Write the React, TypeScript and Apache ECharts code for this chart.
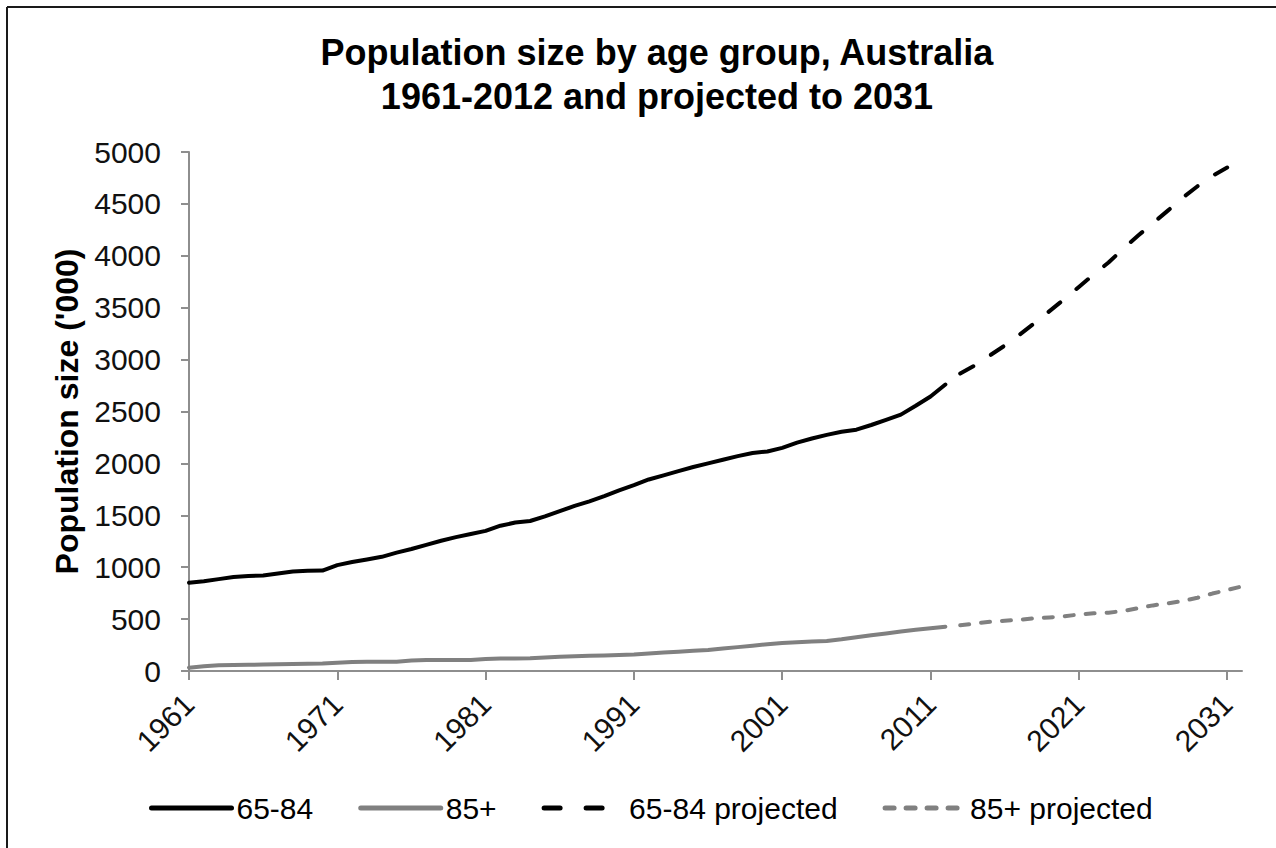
import React, { useEffect, useRef } from "react";
import * as echarts from "echarts";

// Categories: every year from 1961 to 2032 (axis runs one year past the 2031 tick)
const years = [
  "1961", "1962", "1963", "1964", "1965", "1966", "1967", "1968", "1969", "1970",
  "1971", "1972", "1973", "1974", "1975", "1976", "1977", "1978", "1979", "1980",
  "1981", "1982", "1983", "1984", "1985", "1986", "1987", "1988", "1989", "1990",
  "1991", "1992", "1993", "1994", "1995", "1996", "1997", "1998", "1999", "2000",
  "2001", "2002", "2003", "2004", "2005", "2006", "2007", "2008", "2009", "2010",
  "2011", "2012", "2013", "2014", "2015", "2016", "2017", "2018", "2019", "2020",
  "2021", "2022", "2023", "2024", "2025", "2026", "2027", "2028", "2029", "2030",
  "2031", "2032",
];

// 65-84, estimated population ('000), 1961-2012
const age6584Start = 1961;
const age6584 = [
  850, 865, 885, 905, 915, 920, 940, 958, 966, 968,
  1020, 1050, 1075, 1100, 1140, 1175, 1215, 1255, 1290, 1320,
  1350, 1400, 1430, 1445, 1490, 1540, 1590, 1635, 1685, 1740,
  1790, 1845, 1885, 1925, 1965, 2000, 2035, 2070, 2100, 2115,
  2150, 2200, 2240, 2275, 2305, 2325, 2370, 2420, 2470, 2555,
  2645, 2760,
];

// 85+, estimated population ('000), 1961-2012
const age85Start = 1961;
const age85 = [
  32, 45, 55, 58, 60, 62, 64, 67, 70, 72,
  80, 87, 88, 89, 90, 100, 105, 106, 106, 107,
  115, 120, 121, 122, 130, 138, 143, 147, 150, 153,
  158, 168, 178, 186, 194, 202, 216, 230, 244, 258,
  270, 278, 284, 290, 305, 325, 345, 362, 380, 397,
  412, 427,
];

// 65-84 projected, 2013-2031
const proj6584Start = 2013;
const proj6584 = [
  2865, 2945, 3040, 3135, 3240, 3350, 3465, 3580, 3700, 3820,
  3935, 4070, 4195, 4315, 4435, 4560, 4670, 4770, 4850,
];

// 85+ projected, 2013-2032
const proj85Start = 2013;
const proj85 = [
  440, 458, 474, 484, 493, 508, 516, 526, 545, 556,
  562, 578, 605, 632, 652, 674, 706, 746, 780, 815,
];

const yTicks = { min: 0, max: 5000, step: 500 };

const FONT = '"Liberation Sans", Arial, Helvetica, sans-serif';
const AXIS_GREY = "#8e8e8e";
const GREY = "#808080";

function align(values: number[], start: number) {
  return years.map((y) => {
    const i = Number(y) - start;
    return i >= 0 && i < values.length ? values[i] : null;
  });
}

export default function App() {
  const ref = useRef<HTMLDivElement>(null);

  useEffect(() => {
    if (!ref.current) return;
    const chart = echarts.init(ref.current, undefined, { renderer: "svg" });
    const option = {
      animation: false,
      backgroundColor: "#ffffff",
      textStyle: { fontFamily: FONT },
      title: {
        text: "Population size by age group, Australia\n1961-2012 and projected to 2031",
        left: 652,
        top: 25,
        textAlign: "center",
        textStyle: {
          fontFamily: FONT,
          fontSize: 36,
          fontWeight: "bold",
          color: "#000",
          lineHeight: 44,
        },
      },
      grid: { left: 189, top: 152, width: 1053, height: 519, containLabel: false },
      legend: {
        left: 144,
        top: 788,
        itemWidth: 80,
        itemHeight: 14,
        itemGap: 45,
        textStyle: { fontFamily: FONT, fontSize: 30, color: "#000" },
        itemStyle: { opacity: 0 },
        lineStyle: { width: 5 },
        data: [
          { name: "65-84" },
          { name: "85+" },
          { name: "65-84 projected", lineStyle: { type: [16, 26], width: 5 } },
          { name: "85+ projected" },
        ],
      },
      xAxis: {
        type: "category",
        data: years,
        boundaryGap: false,
        axisLine: { show: true, lineStyle: { color: AXIS_GREY, width: 2 } },
        axisTick: { show: true, interval: 9, length: 9, lineStyle: { color: AXIS_GREY, width: 2 } },
        axisLabel: {
          interval: 9,
          rotate: 45,
          fontFamily: FONT,
          fontSize: 30,
          color: "#111",
          margin: 28,
        },
        splitLine: { show: false },
      },
      yAxis: {
        type: "value",
        min: yTicks.min,
        max: yTicks.max,
        interval: yTicks.step,
        name: "Population size ('000)",
        nameLocation: "middle",
        nameRotate: 90,
        nameGap: 95,
        nameTextStyle: { fontFamily: FONT, fontSize: 32, fontWeight: "bold", color: "#000" },
        axisLine: { show: true, lineStyle: { color: AXIS_GREY, width: 2 } },
        axisTick: { show: true, length: 8, lineStyle: { color: AXIS_GREY, width: 2 } },
        axisLabel: {
          fontFamily: FONT,
          fontSize: 30,
          color: "#111",
          margin: 28,
          formatter: (v: number) => String(v),
        },
        splitLine: { show: false },
      },
      graphic: [
        {
          type: "line",
          shape: { x1: 7, y1: 7, x2: 1276, y2: 7 },
          style: { stroke: "#1a1a1a", lineWidth: 2 },
        },
        {
          type: "line",
          shape: { x1: 7, y1: 7, x2: 7, y2: 848 },
          style: { stroke: "#1a1a1a", lineWidth: 2 },
        },
      ],
      series: [
        {
          name: "65-84",
          type: "line",
          data: align(age6584, age6584Start),
          symbol: "none",
          lineStyle: { color: "#000", width: 4, cap: "round", join: "round" },
          itemStyle: { color: "#000" },
        },
        {
          name: "85+",
          type: "line",
          data: align(age85, age85Start),
          symbol: "none",
          lineStyle: { color: GREY, width: 4, cap: "round", join: "round" },
          itemStyle: { color: GREY },
        },
        {
          name: "65-84 projected",
          type: "line",
          data: align(proj6584, proj6584Start),
          symbol: "none",
          lineStyle: { color: "#000", width: 4, type: [15, 21], cap: "round", join: "round" },
          itemStyle: { color: "#000" },
        },
        {
          name: "85+ projected",
          type: "line",
          data: align(proj85, proj85Start),
          symbol: "none",
          lineStyle: { color: GREY, width: 4, type: [9, 12], cap: "round", join: "round" },
          itemStyle: { color: GREY },
        },
      ],
    };
    chart.setOption(option as any);
    return () => chart.dispose();
  }, []);

  return (
    <div
      ref={ref}
      style={{ position: "absolute", left: 0, top: 0, width: 1276, height: 848, background: "#fff" }}
    />
  );
}
